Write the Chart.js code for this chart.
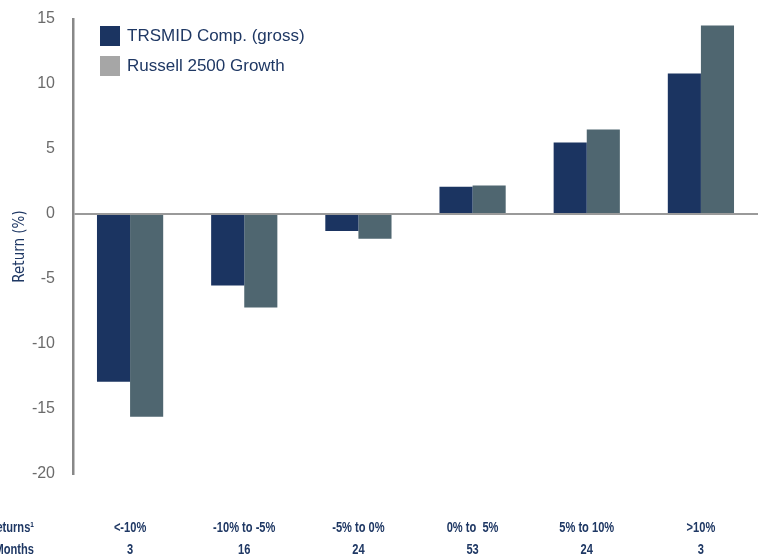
<!DOCTYPE html>
<html lang="en">
<head>
  <meta charset="UTF-8" />
  <title>Return by market environment</title>
  <style>
    body { margin: 0; background: #fff; }
    #wrap { width: 758px; height: 560px; position: relative; }
  </style>
</head>
<body>
  <div id="wrap"><canvas id="chart"></canvas></div>
  <script src="https://cdn.jsdelivr.net/npm/chart.js"></script>
  <script>
    const returnBuckets = ['<-10%', '-10% to -5%', '-5% to 0%', '0% to  5%', '5% to 10%', '>10%'];
    const monthCounts = ['3', '16', '24', '53', '24', '3'];
    const rowHeaders = ['Returns\u00B9', 'Months'];
    const seriesNames = ['TRSMID Comp. (gross)', 'Russell 2500 Growth'];
    const trsmid = [-12.9, -5.5, -1.3, 2.1, 5.5, 10.8];
    const russell = [-15.6, -7.2, -1.9, 2.2, 6.5, 14.5];
    const yTicks = [15, 10, 5, 0, -5, -10, -15, -20];

    const navy = '#1b3461';
    const slate = '#4f6670';
    const legendGray = '#a6a6a6';
    const textNavy = '#1f3864';
    const sans = "'Liberation Sans', Arial, sans-serif";

    // no narrow font installed, so the bottom table text is squeezed by hand
    function narrowText(ctx, text, x, y, align) {
      ctx.save();
      ctx.translate(x, y);
      ctx.scale(0.74, 1);
      ctx.textAlign = align;
      ctx.fillText(text, 0, 0);
      ctx.restore();
    }

    const extras = {
      id: 'extras',
      afterDraw(chart) {
        const ctx = chart.ctx;
        ctx.save();
        // legend inside the plot, top-left
        const swatches = [navy, legendGray];
        ctx.font = '17px ' + sans;
        ctx.textBaseline = 'middle';
        ctx.textAlign = 'left';
        seriesNames.forEach((name, i) => {
          const y = 36 + i * 30;
          ctx.fillStyle = swatches[i];
          ctx.fillRect(100, y - 10, 20, 20);
          ctx.fillStyle = textNavy;
          ctx.fillText(name, 127, y);
        });
        // two-row category table under the axis
        const xs = chart.scales.x;
        ctx.font = 'bold 15px ' + sans;
        ctx.fillStyle = textNavy;
        const rows = [returnBuckets, monthCounts];
        rows.forEach((row, r) => {
          const y = 528 + r * 22;
          narrowText(ctx, rowHeaders[r], 34, y, 'right');
          row.forEach((txt, i) => narrowText(ctx, txt, xs.getPixelForTick(i), y, 'center'));
        });
        ctx.restore();
      }
    };

    new Chart(document.getElementById('chart'), {
      type: 'bar',
      data: {
        labels: returnBuckets,
        datasets: [
          { label: seriesNames[0], data: trsmid, backgroundColor: navy },
          { label: seriesNames[1], data: russell, backgroundColor: slate }
        ]
      },
      plugins: [extras],
      options: {
        responsive: true,
        maintainAspectRatio: false,
        animation: false,
        layout: { padding: { top: 19, right: -3, left: 0, bottom: 0 } },
        datasets: { bar: { categoryPercentage: 0.58, barPercentage: 1 } },
        plugins: {
          legend: { display: false },
          tooltip: { enabled: false }
        },
        scales: {
          x: {
            grid: { display: false },
            border: { display: false },
            ticks: { display: false },
            afterFit(scale) { scale.height = 86; }
          },
          y: {
            min: -20,
            max: 15,
            afterBuildTicks(scale) { scale.ticks = yTicks.map(v => ({ value: v })); },
            grid: {
              drawTicks: true,
              tickLength: 18,
              tickColor: 'rgba(0,0,0,0)',
              color: c => (c.tick && c.tick.value === 0 ? '#9a9a9a' : 'rgba(0,0,0,0)'),
              lineWidth: 2
            },
            border: { display: true, color: '#888888', width: 2.5 },
            ticks: {
              color: '#6b6b6b',
              padding: 0,
              font: { family: sans, size: 16 }
            },
            title: {
              display: true,
              text: 'Return (%)',
              color: textNavy,
              padding: { top: 11, bottom: 0 },
              font: { family: "'DejaVu Sans Condensed', sans-serif", size: 15 }
            },
            afterFit(scale) { scale.width = 73; }
          }
        }
      }
    });
  </script>
</body>
</html>
